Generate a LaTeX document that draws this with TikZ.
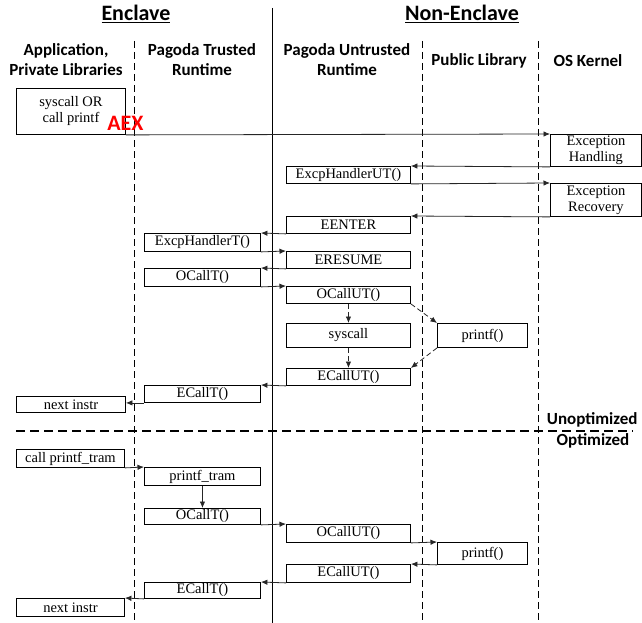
\documentclass[tikz,border=0pt]{standalone}
\usepackage{fontspec}
\setmainfont{Liberation Serif}
\newfontfamily\hdrfont{Carlito}
\usetikzlibrary{arrows.meta}
\tikzset{
  bx/.style={draw, line width=0.9pt, inner sep=0pt, align=center,
    font=\fontsize{14.5}{16}\selectfont, anchor=north west},
  conn/.style={line width=0.8pt, draw=black!85, -{Latex[length=6.5pt,width=5.5pt]}},
  dconn/.style={conn, dash pattern=on 5pt off 3pt},
  lane/.style={line width=0.9pt, dash pattern=on 7pt off 4pt},
  solidlane/.style={line width=1pt},
  colhdr/.style={font=\hdrfont\bfseries\fontsize{17}{20}\selectfont, align=center},
  bighdr/.style={font=\hdrfont\bfseries\fontsize{22}{24}\selectfont, anchor=base},
}
\begin{document}
\begin{tikzpicture}[x=1pt,y=-1pt]
\useasboundingbox (0,0) rectangle (642,623);

% lanes
\coordinate (s1) at (272,8);   \coordinate (s2) at (272,623);
\coordinate (d1a) at (134,41); \coordinate (d1b) at (134,623);
\coordinate (d2a) at (422,41); \coordinate (d2b) at (422,623);
\coordinate (d3a) at (538,41); \coordinate (d3b) at (538,623);
\draw[solidlane] (s1) -- (s2);
\draw[lane] (d1a) -- (d1b);
\draw[lane] (d2a) -- (d2b);
\draw[lane] (d3a) -- (d3b);
\coordinate (h1) at (16,431); \coordinate (h2) at (633,431);
\draw[line width=1.4pt, dash pattern=on 9pt off 5pt] (h1) -- (h2);

% headers
\node[bighdr] (enc) at (136,21) {\underline{Enclave}};
\node[bighdr] (nenc) at (462,21) {\underline{Non-Enclave}};
\node[colhdr] (hApp) at (66,60) {Application,\\Private Libraries};
\node[colhdr] (hTR) at (202,60) {Pagoda Trusted\\Runtime};
\node[colhdr] (hUR) at (347,60) {Pagoda Untrusted\\Runtime};
\node[colhdr] (hPL) at (479,61) {Public Library};
\node[colhdr] (hOS) at (588,61) {OS Kernel};
\node[colhdr, anchor=east] (unopt) at (641,420) {Unoptimized};
\node[colhdr] (opt) at (593,441) {Optimized};

% upper (unoptimized) boxes
\node[bx, minimum width=109pt, minimum height=46pt] (sys) at (16,88) {syscall OR\\call printf};
\node[bx, minimum width=91pt, minimum height=32pt] (exh) at (550,134) {Exception\\Handling};
\node[bx, minimum width=124pt, minimum height=17pt] (exhut) at (286,166) {ExcpHandlerUT()};
\node[bx, minimum width=91pt, minimum height=33pt] (exr) at (550,183) {Exception\\Recovery};
\node[bx, minimum width=124pt, minimum height=17pt] (eenter) at (286,216) {EENTER};
\node[bx, minimum width=116pt, minimum height=18pt] (exht) at (144,233) {ExcpHandlerT()};
\node[bx, minimum width=124pt, minimum height=17pt] (eresume) at (286,251) {ERESUME};
\node[bx, minimum width=116pt, minimum height=18pt] (ocallt1) at (144,268) {OCallT()};
\node[bx, minimum width=124pt, minimum height=17pt] (ocallut1) at (286,286) {OCallUT()};
\node[bx, minimum width=124pt, minimum height=24pt] (scall) at (286,323) {syscall};
\node[bx, minimum width=90pt, minimum height=24pt] (printf1) at (437,323) {printf()};
\node[bx, minimum width=124pt, minimum height=17pt] (ecallut1) at (286,368) {ECallUT()};
\node[bx, minimum width=116pt, minimum height=17pt] (ecallt1) at (144,385) {ECallT()};
\node[bx, minimum width=109pt, minimum height=16pt] (next1) at (16,396) {next instr};

\node[text=red, font=\hdrfont\bfseries\fontsize{22}{24}\selectfont] (aex) at (125.5,123) {AEX};

% upper connectors
\draw[conn] (sys.south east) -- (exh.north west);
\draw[conn] (exh.south west) -- (exhut.north east);
\draw[conn] (exhut.south east) -- (exr.north west);
\draw[conn] (exr.south west) -- (eenter.north east);
\draw[conn] (eenter.south west) -- (exht.north east);
\draw[conn] (exht.south east) -- (eresume.north west);
\draw[conn] (eresume.south west) -- (ocallt1.north east);
\draw[conn] (ocallt1.south east) -- (ocallut1.north west);
\draw[dconn] (ocallut1.south) -- (scall.north);
\draw[dconn] (scall.south) -- (ecallut1.north);
\draw[dconn] (ocallut1.south east) -- (printf1.north west);
\draw[dconn] (printf1.south west) -- (ecallut1.north east);
\draw[conn] (ecallut1.south west) -- (ecallt1.north east);
\draw[conn] (ecallt1.south west) -- (next1.east |- ecallt1.south west);

% lower (optimized) boxes
\node[bx, minimum width=108pt, minimum height=18pt] (cpt) at (16,449) {call printf\_tram};
\node[bx, minimum width=116pt, minimum height=18pt] (ptram) at (144,467) {printf\_tram};
\node[bx, minimum width=116pt, minimum height=16pt] (ocallt2) at (144,508) {OCallT()};
\node[bx, minimum width=124pt, minimum height=18pt] (ocallut2) at (286,524) {OCallUT()};
\node[bx, minimum width=90pt, minimum height=22pt] (printf2) at (437,542) {printf()};
\node[bx, minimum width=124pt, minimum height=18pt] (ecallut2) at (286,564) {ECallUT()};
\node[bx, minimum width=116pt, minimum height=16pt] (ecallt2) at (144,582) {ECallT()};
\node[bx, minimum width=108pt, minimum height=18pt] (next2) at (16,598) {next instr};

% lower connectors
\draw[conn] (cpt.south east) -- (ptram.north west);
\draw[conn] (ptram.south) -- (ocallt2.north);
\draw[conn] (ocallt2.south east) -- (ocallut2.north west);
\draw[conn] (ocallut2.south east) -- (printf2.north west);
\draw[conn] (printf2.south west) -- (ecallut2.north east);
\draw[conn] (ecallut2.south west) -- (ecallt2.north east);
\draw[conn] (ecallt2.south west) -- (next2.north east);
\end{tikzpicture}
\end{document}
